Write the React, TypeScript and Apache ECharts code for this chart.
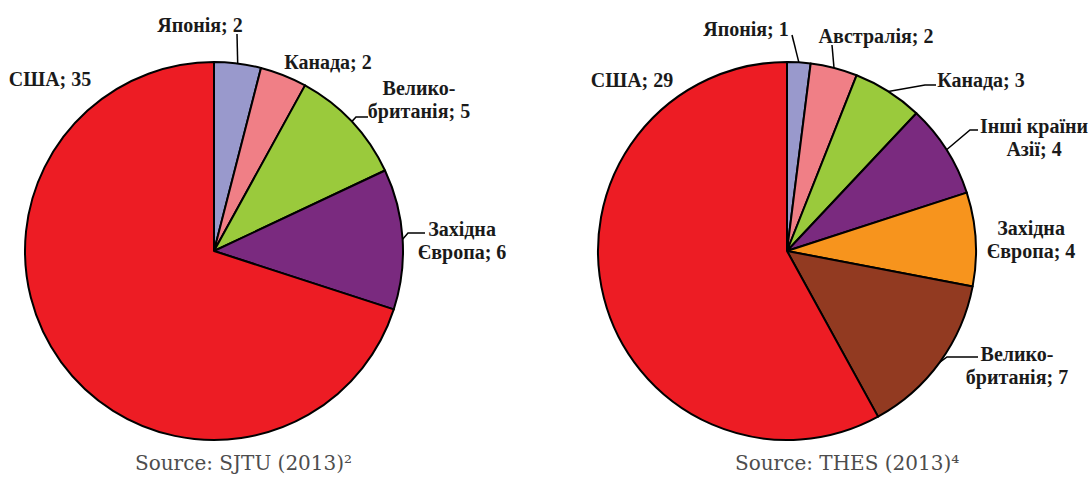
import React, { useEffect, useRef } from 'react';
import * as echarts from 'echarts';

// ---- Data ----
const leftCategories = ['Японія', 'Канада', 'Велико-\nбританія', 'Західна\nЄвропа', 'США'];
const leftValues = [2, 2, 5, 6, 35];
const leftColors = ['#9999CC', '#F07F86', '#9ACA3C', '#7A2A7F', '#ED1C24'];

const rightCategories = ['Японія', 'Австралія', 'Канада', 'Інші країни\nАзії', 'Західна\nЄвропа', 'Велико-\nбританія', 'США'];
const rightValues = [1, 2, 3, 4, 4, 7, 29];
const rightColors = ['#9999CC', '#F07F86', '#9ACA3C', '#7A2A7F', '#F7941D', '#923A21', '#ED1C24'];

const leftSource = 'Source: SJTU (2013)²';
const rightSource = 'Source: THES (2013)⁴';

// ---- Layout (positions only) ----
const leftCenter = [214, 251];
const rightCenter = [787, 251];
const pieRadius = 189;

const leftLabelPos = [[200, 25], [328, 62], [419, 99], [462, 240], [50, 79]];
const leftLeaders: (number[][] | null)[] = [[[237, 34]], null, [[356, 117], [368, 117]], [[408, 233], [425, 233]], null];

const rightLabelPos = [[746, 29], [876, 36], [981, 80], [1034, 137], [1031, 239], [1017, 365], [632, 80]];
const rightLeaders: (number[][] | null)[] = [[[792, 35]], [[832, 45]], [[925, 85], [936, 85]], [[970, 130], [978, 130]], null, [[947, 357], [978, 357]], null];

function edgePoint(vals: number[], i: number, center: number[], r: number) {
  const total = vals.reduce((a, b) => a + b, 0);
  let before = 0;
  for (let k = 0; k < i; k++) before += vals[k];
  const mid = 90 - ((before + vals[i] / 2) / total) * 360;
  const rad = (mid * Math.PI) / 180;
  return [center[0] + r * Math.cos(rad), center[1] - r * Math.sin(rad)];
}

function makeSeries(cats: string[], vals: number[], colors: string[], center: number[], labelPos: number[][], leaders: (number[][] | null)[]) {
  return {
    type: 'pie',
    center,
    radius: pieRadius,
    startAngle: 90,
    clockwise: true,
    avoidLabelOverlap: false,
    itemStyle: { borderColor: '#000', borderWidth: 2 },
    label: {
      show: true,
      position: 'outside',
      formatter: '{b}; {c}',
      color: '#1a1a1a',
      fontFamily: 'Liberation Serif',
      fontWeight: 'bold',
      fontSize: 20,
      lineHeight: 23,
      align: 'center',
    },
    labelLine: { show: true, length: 10, length2: 10, lineStyle: { color: '#000', width: 1.5 } },
    labelLayout: (p: any) => {
      const i = p.dataIndex;
      const pos = labelPos[i];
      const res: any = { x: pos[0], y: pos[1], align: 'center', verticalAlign: 'middle' };
      const lead = leaders[i];
      if (lead) {
        const start = p.labelLinePoints && p.labelLinePoints[0] ? p.labelLinePoints[0] : edgePoint(vals, i, center, pieRadius);
        res.labelLinePoints = lead.length === 1 ? [start, lead[0], lead[0]] : [start, lead[0], lead[1]];
      }
      return res;
    },
    data: cats.map((name, i) => ({
      name,
      value: vals[i],
      itemStyle: { color: colors[i] },
      labelLine: { show: !!leaders[i] },
    })),
  };
}

export default function App() {
  const ref = useRef<HTMLDivElement>(null);
  useEffect(() => {
    if (!ref.current) return;
    const chart = echarts.init(ref.current, undefined, { renderer: 'svg' });
    const srcStyle = { fontFamily: 'DejaVu Serif', fontSize: 20, fill: '#4d4d4d', align: 'left', verticalAlign: 'middle', textAlign: 'left', textVerticalAlign: 'middle' };
    chart.setOption({
      animation: false,
      backgroundColor: '#fff',
      series: [
        makeSeries(leftCategories, leftValues, leftColors, leftCenter, leftLabelPos, leftLeaders),
        makeSeries(rightCategories, rightValues, rightColors, rightCenter, rightLabelPos, rightLeaders),
      ],
      graphic: [
        { type: 'text', x: 135, y: 463, style: { ...srcStyle, text: leftSource } },
        { type: 'text', x: 735, y: 463, style: { ...srcStyle, text: rightSource } },
      ],
    });
    return () => chart.dispose();
  }, []);
  return <div ref={ref} style={{ position: 'absolute', left: 0, top: 0, width: 1092, height: 477 }} />;
}
